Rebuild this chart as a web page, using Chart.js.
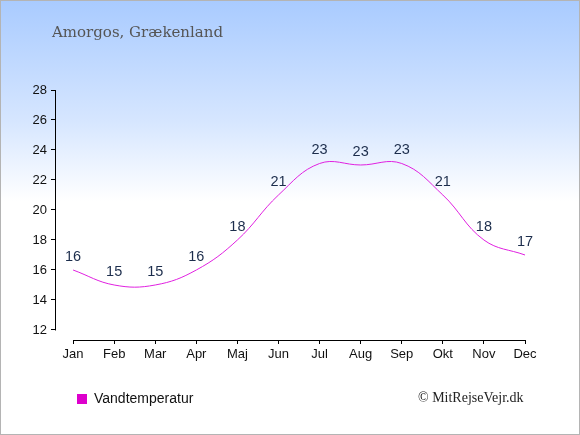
<!DOCTYPE html>
<html>
<head>
<meta charset="utf-8">
<script src="https://cdn.jsdelivr.net/npm/chart.js@4.4.0/dist/chart.umd.min.js"></script>
<style>
html, body { margin: 0; padding: 0; }
#wrap {
	position: relative;
	width: 578px; height: 433px;
	border: 1px solid #b4b4b4;
	background: linear-gradient(to bottom, #a9cbff 0px, #d6e6ff 120px, #ffffff 200px, #ffffff 100%);
	overflow: hidden;
}
#chart { position: absolute; left: -1px; top: -1px; }
.title { position: absolute; left: 51px; top: 22px; font: 15px "DejaVu Serif", "Liberation Serif", serif; color: #555; }
.box { position: absolute; left: 76px; top: 393px; width: 10px; height: 10px; background: #dd00cc; }
.legend { position: absolute; left: 93px; top: 389px; font: 14px/16px "Liberation Sans", Arial, sans-serif; color: #111; }
.copy { position: absolute; left: 417px; top: 389px; font: 14px/16px "Liberation Serif", "DejaVu Serif", serif; color: #222; }
</style>
</head>
<body>
<div id="wrap">
	<canvas id="chart" width="580" height="435"></canvas>
	<div class="title">Amorgos, Grækenland</div>
	<div class="box"></div>
	<div class="legend">Vandtemperatur</div>
	<div class="copy">© MitRejseVejr.dk</div>
</div>
<script>

var months = ['Jan', 'Feb', 'Mar', 'Apr', 'Maj', 'Jun', 'Jul', 'Aug', 'Sep', 'Okt', 'Nov', 'Dec'];
var water = [16, 15, 15, 16, 18, 21, 23.1, 23, 23.1, 21, 18, 17];
var yTicks = [12, 14, 16, 18, 20, 22, 24, 26, 28];

var points = water.map(function(v, i){ return {x: i, y: v}; });

// value labels above each point
var valueLabels = {
	id: 'valueLabels',
	afterDatasetsDraw: function(c){
		var ctx = c.ctx;
		var meta = c.getDatasetMeta(0);
		ctx.save();
		ctx.font = '14.5px "Liberation Sans", Arial, sans-serif';
		ctx.fillStyle = '#1c2d4c';
		ctx.textAlign = 'center';
		ctx.textBaseline = 'middle';
		meta.data.forEach(function(pt, i){
			ctx.fillText(Math.round(water[i]), pt.x, pt.y - 13);
		});
		ctx.restore();
	}
};

// axis lines, y stops at 12 and x starts at Jan
var axisLines = {
	id: 'axisLines',
	afterDraw: function(c){
		var ctx = c.ctx;
		var xs = c.scales.x, ys = c.scales.y;
		ctx.save();
		ctx.strokeStyle = '#000';
		ctx.lineWidth = 1;
		ctx.beginPath();
		var ax = Math.round(xs.left) + 0.5;
		ctx.moveTo(ax, ys.getPixelForValue(28));
		ctx.lineTo(ax, ys.getPixelForValue(12) + 0.5);
		var ay = Math.round(ys.bottom) + 0.5;
		ctx.moveTo(xs.getPixelForValue(0), ay);
		ctx.lineTo(xs.getPixelForValue(11) + 0.5, ay);
		ctx.stroke();
		ctx.restore();
	}
};

var ctx = document.getElementById('chart');
var chart = new Chart(ctx, {
	type: 'line',
	data: {
		datasets: [{
			label: 'Vandtemperatur',
			borderColor: '#e020e0',
			borderWidth: 1,
			pointRadius: 0,
			tension: 0.4,
			fill: false,
			data: points
		}]
	},
	options: {
		responsive: false,
		animation: false,
		layout: { padding: { left: 0, top: 90, right: 55, bottom: 0 } },
		plugins: { legend: { display: false }, title: { display: false }, tooltip: { enabled: false } },
		scales: {
			x: {
				type: 'linear',
				min: -0.44,
				max: 11,
				afterBuildTicks: function(s){ s.ticks = months.map(function(m, i){ return {value: i}; }); },
				afterFit: function(s){ s.height = 95; },
				border: { display: false },
				grid: { drawOnChartArea: false, drawTicks: true, tickLength: 4, color: '#000', offset: false },
				ticks: {
					autoSkip: false, maxRotation: 0, padding: 3, color: '#111',
					font: { family: '"Liberation Sans", Arial, sans-serif', size: 13 },
					callback: function(v){ return months[v]; }
				}
			},
			y: {
				min: 11.333,
				max: 28,
				afterBuildTicks: function(s){ s.ticks = yTicks.map(function(v){ return {value: v}; }); },
				afterFit: function(s){ s.width = 55; },
				border: { display: false },
				grid: { drawOnChartArea: false, drawTicks: true, tickLength: 4, color: '#000' },
				ticks: {
					padding: 4, color: '#111',
					font: { family: '"Liberation Sans", Arial, sans-serif', size: 13 }
				}
			}
		}
	},
	plugins: [valueLabels, axisLines]
});

</script>
</body>
</html>
